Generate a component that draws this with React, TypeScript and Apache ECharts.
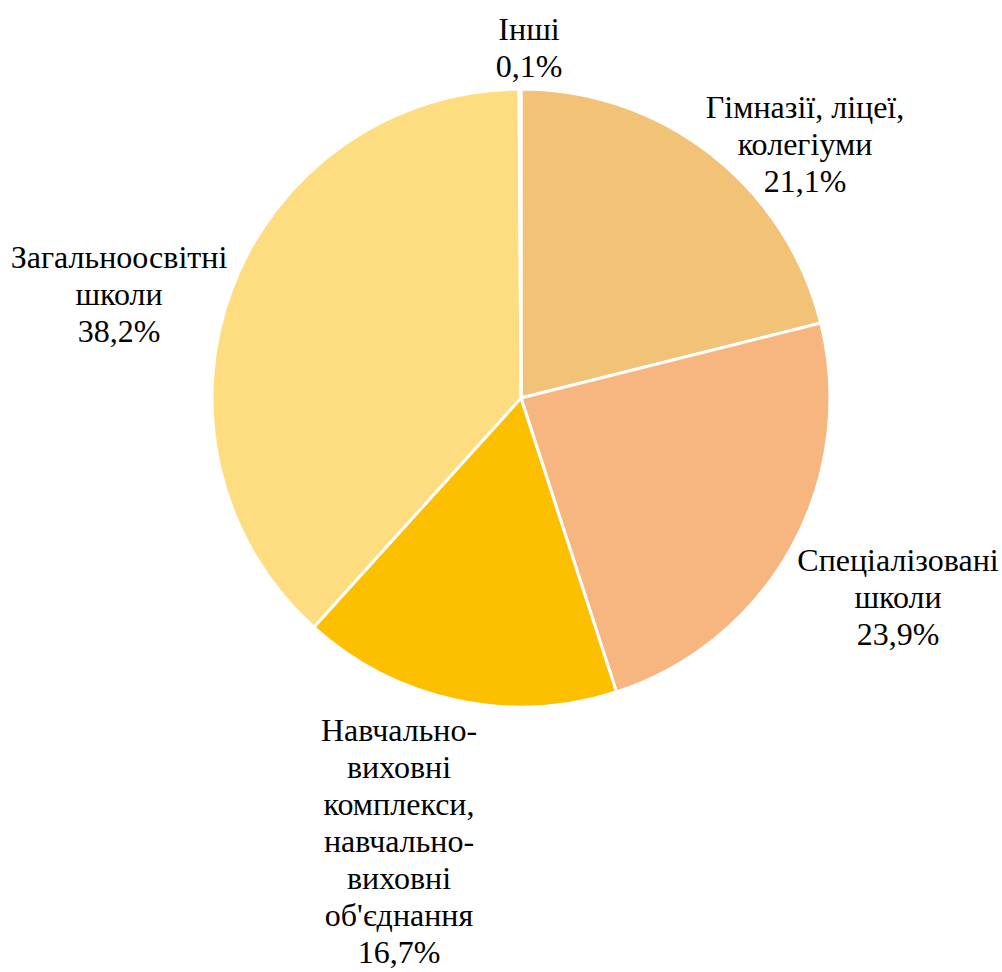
import React, { useEffect, useRef } from "react";
import * as echarts from "echarts";

const names = [
  "Гімназії, ліцеї,\nколегіуми",
  "Спеціалізовані\nшколи",
  "Навчально-\nвиховні\nкомплекси,\nнавчально-\nвиховні\nоб'єднання",
  "Загальноосвітні\nшколи",
  "Інші",
];
const values = [21.1, 23.9, 16.7, 38.2, 0.1];
const colors = ["#F2C277", "#F7B57F", "#FDC000", "#FEDC80", "#FBE5D6"];
// label block centres (layout only)
const labelAnchors = [
  [805, 144],
  [898, 597],
  [399, 841],
  [119, 294],
  [529, 47],
];

const FONT = "Liberation Serif";

export default function App() {
  const ref = useRef<HTMLDivElement>(null);
  useEffect(() => {
    document.body.style.margin = "0";
    const chart = echarts.init(ref.current!, null, { renderer: "svg" });
    chart.setOption({
      animation: false,
      backgroundColor: "#ffffff",
      series: [
        {
          type: "pie",
          center: [521, 398],
          radius: 309,
          startAngle: 90,
          clockwise: true,
          data: names.map((n, i) => ({
            name: n,
            value: values[i],
            itemStyle: { color: colors[i] },
          })),
          itemStyle: { borderColor: "#ffffff", borderWidth: 3 },
          label: {
            show: true,
            position: "outside",
            formatter: (p: any) =>
              p.name + "\n" + String(p.value).replace(".", ",") + "%",
            fontFamily: FONT,
            fontSize: 32,
            lineHeight: 37,
            color: "#000000",
            overflow: "none",
          },
          labelLine: { show: false },
          labelLayout: (p: any) => ({
            x: labelAnchors[p.dataIndex][0],
            y: labelAnchors[p.dataIndex][1],
            align: "center",
            verticalAlign: "middle",
          }),
        },
      ],
    });
    return () => chart.dispose();
  }, []);
  return <div ref={ref} style={{ width: 1002, height: 972 }} />;
}
